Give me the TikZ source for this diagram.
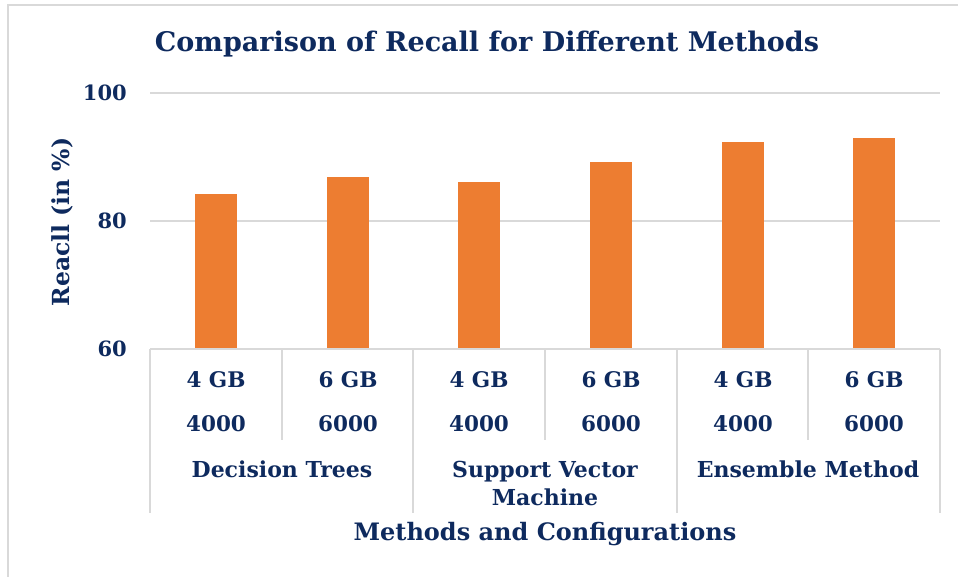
\documentclass[tikz,border=0pt]{standalone}
\usepackage{fontspec}
\setmainfont{DejaVu Serif}
\definecolor{navy}{HTML}{0E2A5E}
\definecolor{barc}{HTML}{ED7D31}
\definecolor{gridc}{HTML}{D9D9D9}
\begin{document}
\begin{tikzpicture}[x=1pt,y=-1pt,
  lbl/.style={text=navy,font=\bfseries\fontsize{21.5}{24}\selectfont,inner sep=0pt},
  grp/.style={text=navy,font=\bfseries\fontsize{22}{28}\selectfont,inner sep=0pt,align=center},
  tick/.style={text=navy,font=\bfseries\fontsize{21}{24}\selectfont,inner sep=0pt,anchor=east},
  gline/.style={draw=gridc,line width=1.5pt},
  bar/.style={fill=barc,draw=none}]
\useasboundingbox (0,0) rectangle (958,577);
% outer frame
\draw[gline] (8,577) -- (8,5) -- (958,5);
% grid lines
\draw[gline] (150,93) -- (940,93);
\draw[gline] (150,221) -- (940,221);
% bars
\foreach \cx/\top in {216/194, 348/177, 479/182, 611/162, 743/142, 874/138}{
  \fill[bar] (\cx-21,\top) rectangle (\cx+21,349);
}
% axis table
\draw[gline] (150,349) -- (940,349);
\foreach \xx in {282,545,808}{ \draw[gline] (\xx,349) -- (\xx,440); }
\foreach \xx in {150,413,677,940}{ \draw[gline] (\xx,349) -- (\xx,513); }
% tick labels
\node[tick] (t100) at (127,93) {100};
\node[tick] (t80) at (127,221) {80};
\node[tick] (t60) at (127,349) {60};
% category labels
\foreach \cx/\gb/\n [count=\i] in {216/4/4000, 348/6/6000, 479/4/4000, 611/6/6000, 743/4/4000, 874/6/6000}{
  \node[lbl] (gb\i) at (\cx,380) {\gb\ GB};
  \node[lbl] (n\i) at (\cx,424) {\n};
}
\node[grp] (g1) at (282,469) {Decision Trees};
\node[grp] (g2) at (545,483) {Support Vector\\Machine};
\node[grp] (g3) at (808,469) {Ensemble Method};
% titles
\node[text=navy,font=\bfseries\fontsize{27}{30}\selectfont,inner sep=0pt] (title) at (487,44) {Comparison of Recall for Different Methods};
\node[text=navy,font=\bfseries\fontsize{24}{28}\selectfont,inner sep=0pt] (xt) at (545,534) {Methods and Configurations};
\node[text=navy,font=\bfseries\fontsize{23.5}{26}\selectfont,inner sep=0pt,rotate=90] (yt) at (62,222) {Reacll (in \%)};
\end{tikzpicture}
\end{document}
